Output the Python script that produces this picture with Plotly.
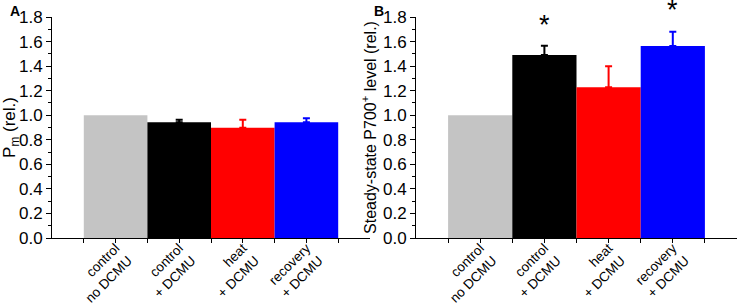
import plotly.graph_objects as go

categories = ["control<br>no DCMU", "control<br>+ DCMU", "heat<br>+ DCMU", "recovery<br>+ DCMU"]
positions = [1, 2, 3, 4]
colors = ["#c4c4c4", "#000000", "#ff0000", "#0000ff"]

pm_values = [1.0, 0.942, 0.898, 0.942]
pm_errors = [0.0, 0.021, 0.065, 0.033]

p700_values = [1.0, 1.49, 1.227, 1.563]
p700_errors = [0.0, 0.076, 0.171, 0.117]

star_positions = [2, 4]
star_heights = [1.75, 1.87]

font_family = "Liberation Sans, Arial, sans-serif"
YMAX = 1.8

fig = go.Figure()

for panel, (vals, errs) in enumerate([(pm_values, pm_errors), (p700_values, p700_errors)]):
    xa = "x" if panel == 0 else "x2"
    ya = "y" if panel == 0 else "y2"
    for xp, v, e, c in zip(positions, vals, errs, colors):
        fig.add_trace(go.Bar(
            x=[xp], y=[v], width=1, marker=dict(color=c, line=dict(width=0)),
            error_y=dict(type="data", array=[e], arrayminus=[0], symmetric=False,
                         visible=e > 0, color=c, thickness=2, width=3.5),
            xaxis=xa, yaxis=ya, showlegend=False,
        ))

tickvals = [0.5, 1, 1.5, 2, 2.5, 3, 3.5, 4, 4.5]
ticktext = ["", categories[0], "", categories[1], "", categories[2], "", categories[3], ""]

xcommon = dict(range=[0, 5], tickvals=tickvals, ticktext=ticktext, tickangle=-45,
               showline=True, linecolor="black", linewidth=1, ticks="outside",
               ticklen=4, tickcolor="black", showgrid=False, zeroline=False,
               automargin=False, ticklabelstandoff=-8,
               tickfont=dict(size=13.5, color="black", family=font_family))
ycommon = dict(range=[0, YMAX], dtick=0.2, tickformat=".1f", showline=True,
               linecolor="black", linewidth=1, ticks="outside", ticklen=5,
               tickcolor="black", showgrid=False, zeroline=False, automargin=False,
               minor=dict(ticks="outside", ticklen=3, dtick=0.1, tickcolor="black"),
               tickfont=dict(size=17, color="black", family=font_family))

y0 = 68 / 306
y1 = 289 / 306
fig.update_layout(
    width=737, height=306,
    margin=dict(l=0, r=0, t=0, b=0),
    paper_bgcolor="white", plot_bgcolor="white",
    barmode="overlay",
    xaxis=dict(domain=[52 / 737, 370 / 737], anchor="y", **xcommon),
    yaxis=dict(domain=[y0, y1], anchor="x",
               title=dict(text="P<sub>m</sub> (rel.)", font=dict(size=17, color="black", family=font_family), standoff=10),
               **ycommon),
    xaxis2=dict(domain=[416 / 737, 1.0], anchor="y2", **xcommon),
    yaxis2=dict(domain=[y0, y1], anchor="x2",
                title=dict(text="Steady-state P700<sup>+</sup> level (rel.)", font=dict(size=16, color="black", family=font_family), standoff=2),
                **ycommon),
    font=dict(family=font_family, color="black"),
)

for xp, h in zip(star_positions, star_heights):
    fig.add_annotation(x=xp, y=y0 + (y1 - y0) * h / YMAX, xref="x2", yref="paper", text="*",
                       showarrow=False, yshift=-2,
                       font=dict(size=27, color="black", family=font_family), yanchor="middle")

fig.add_annotation(x=8 / 737, y=1 - 1 / 306, xref="paper", yref="paper", text="<b>A</b>",
                   showarrow=False, xanchor="left", yanchor="top",
                   font=dict(size=14, color="black", family=font_family))
fig.add_annotation(x=372 / 737, y=1 - 1 / 306, xref="paper", yref="paper", text="<b>B</b>",
                   showarrow=False, xanchor="left", yanchor="top",
                   font=dict(size=14, color="black", family=font_family))

fig.write_html("out.html", config={"displayModeBar": False},
               post_script="document.body.style.margin='0';")
